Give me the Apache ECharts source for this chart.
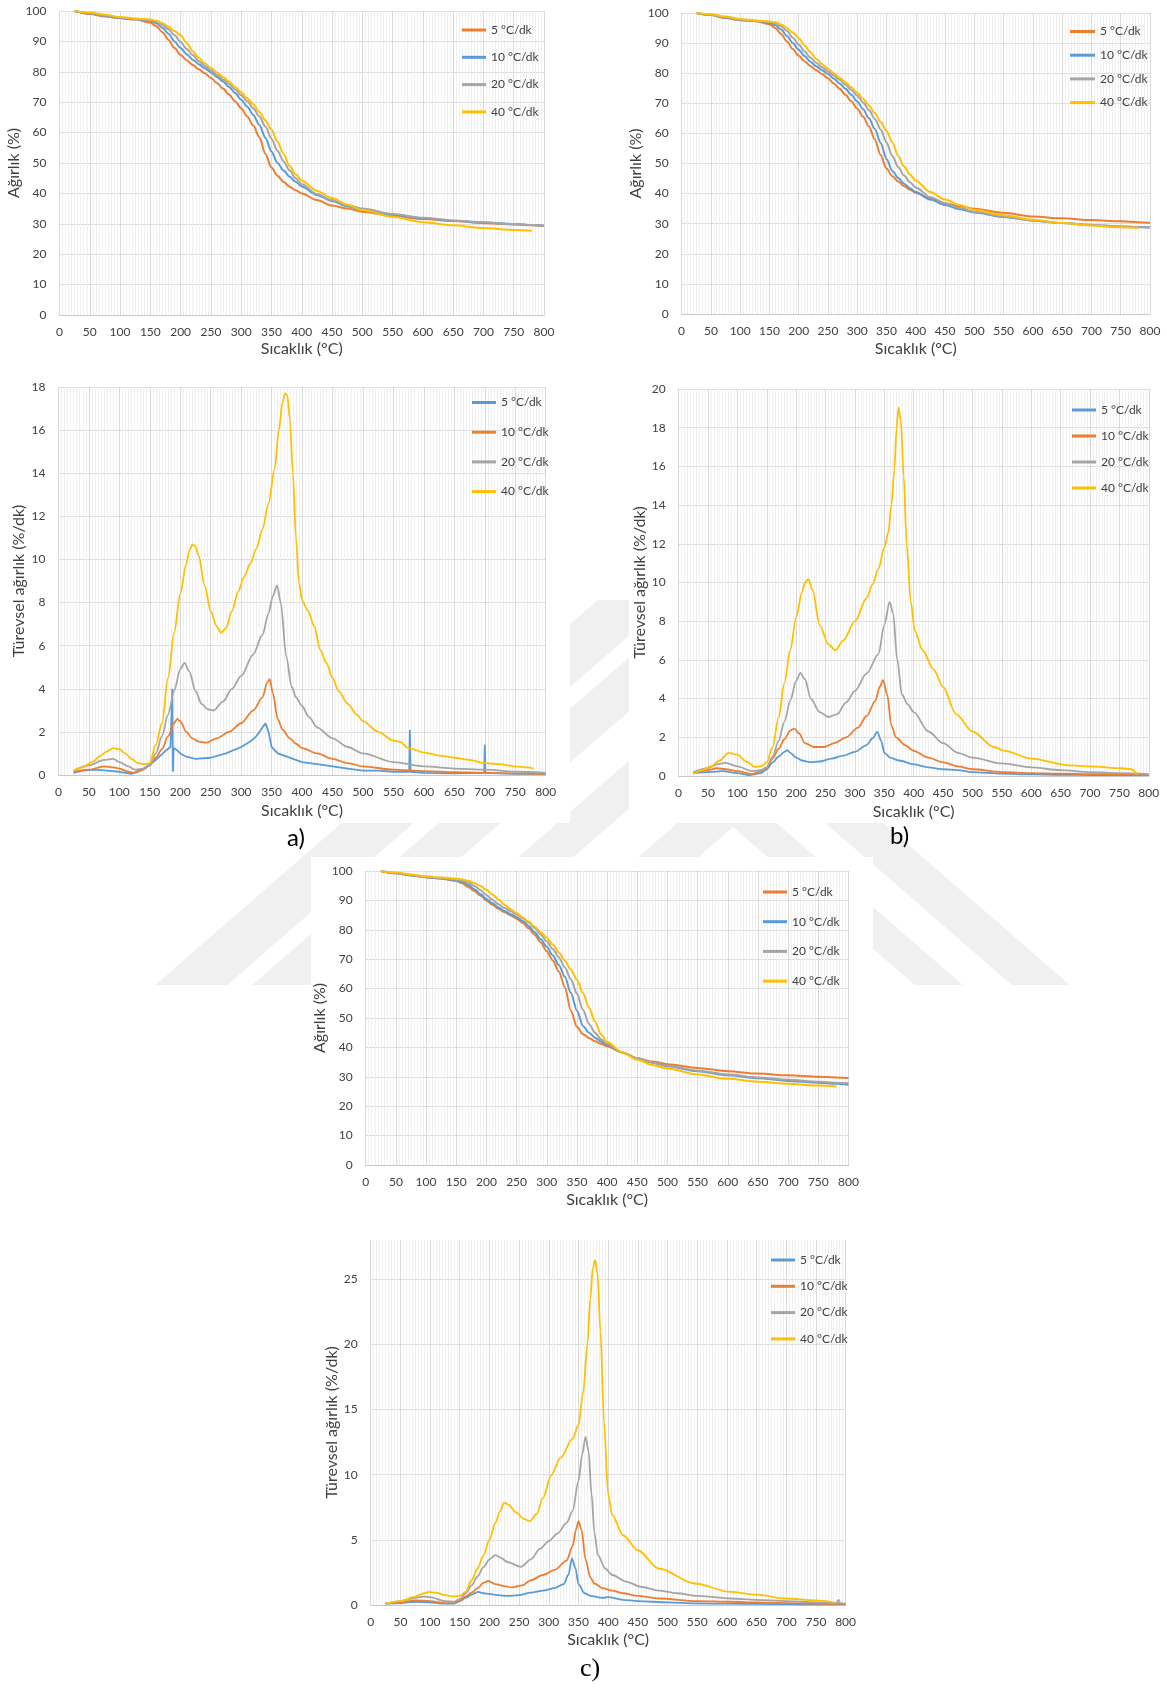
<!DOCTYPE html>
<html><head><meta charset="utf-8">
<script src="https://cdn.jsdelivr.net/npm/echarts@6/dist/echarts.min.js"></script>
<style>html,body{margin:0;padding:0;background:#fff}#c{width:1167px;height:1693px}</style>
</head><body><div id="c"></div>
<script>
// ---------------- DATA ----------------
const RATES = ['5 °C/dk', '10 °C/dk', '20 °C/dk', '40 °C/dk'];
const X_NAME = 'Sıcaklık (°C)';
const Y_NAME_TGA = 'Ağırlık (%)';
const Y_NAME_DTG = 'Türevsel ağırlık (%/dk)';
const PANEL_LABELS = ['a)', 'b)', 'c)'];

// TGA temperatures (°C) shared by all TGA panels
const tgaTemps = [25,50,75,100,125,150,160,170,180,190,200,210,220,230,240,250,260,270,280,290,300,310,320,330,340,350,360,370,380,390,400,425,450,475,500,550,600,650,700,750,780,800];

// a) TGA
const aTGA_5  = [100,99.0,98.2,97.6,97.2,96.2,95.0,93.0,90.5,87.8,85.5,83.8,82.2,80.8,79.5,78.0,76.3,74.5,72.5,70.3,68.0,65.3,62.3,58.5,53.0,48.5,45.8,43.8,42.2,41.0,40.0,37.8,36.0,35.0,34.0,32.6,31.6,30.9,30.3,29.8,29.5,29.3];
const aTGA_10 = [100,99.2,98.4,97.7,97.3,96.8,96.0,94.5,92.5,90.0,87.8,85.8,84.0,82.5,81.2,79.8,78.3,76.8,75.0,73.0,70.8,68.5,65.8,62.5,58.3,53.8,50.0,47.5,45.5,43.8,42.3,39.5,37.5,35.8,34.6,33.0,31.8,31.0,30.4,29.9,29.6,29.4];
const aTGA_20 = [100,99.3,98.5,97.8,97.4,97.0,96.6,95.5,94.0,92.0,89.8,87.5,85.5,83.5,82.0,80.5,79.0,77.5,76.0,74.2,72.3,70.3,68.0,65.3,62.0,58.0,54.0,50.5,47.5,45.0,43.0,39.8,37.8,36.2,35.0,33.2,32.0,31.1,30.5,29.9,29.6,29.4];
const aTGA_40 = [100,99.5,98.8,98.0,97.5,97.2,96.8,96.0,94.8,93.4,92.0,89.5,86.8,84.6,82.8,81.3,79.8,78.3,76.8,75.0,73.3,71.3,69.3,66.8,64.0,61.0,57.0,53.0,49.0,46.3,44.2,40.8,38.5,36.3,34.5,32.3,30.5,29.5,28.6,28.0,27.7,null];

// b) TGA
const bTGA_5  = [100,99.3,98.3,97.6,97.3,96.3,95.0,93.0,90.5,88.0,85.8,84.0,82.4,81.0,79.7,78.3,76.6,74.8,72.8,70.6,68.2,65.5,62.3,58.0,52.8,48.3,45.8,44.0,42.5,41.3,40.2,38.3,36.8,35.8,35.0,33.6,32.4,31.8,31.2,30.8,30.5,30.3];
const bTGA_10 = [100,99.3,98.4,97.7,97.4,96.8,96.0,94.5,92.4,90.0,87.8,85.7,83.8,82.3,81.0,79.7,78.2,76.6,74.8,72.8,70.6,68.0,65.0,61.5,56.8,51.5,47.5,45.2,43.3,41.8,40.5,38.0,36.2,34.8,33.7,32.2,31.0,30.2,29.6,29.1,28.9,28.7];
const bTGA_20 = [100,99.4,98.6,97.8,97.4,97.0,96.6,95.6,94.0,91.8,89.5,87.2,85.2,83.5,82.0,80.6,79.2,77.8,76.2,74.4,72.5,70.3,67.8,64.8,61.3,57.0,52.5,48.8,46.0,43.8,42.0,38.8,36.8,35.2,34.0,32.4,31.1,30.2,29.6,29.1,28.9,28.8];
const bTGA_40 = [100,99.6,98.8,98.0,97.5,97.2,96.9,96.2,95.0,93.5,91.6,89.3,87.0,84.8,83.0,81.5,80.0,78.5,77.0,75.3,73.5,71.5,69.3,66.8,63.8,60.8,57.0,52.5,49.0,46.3,44.3,40.5,38.0,36.2,34.6,32.8,31.3,30.2,29.4,28.8,28.6,null];

// c) TGA
const cTGA_5  = [100,99.2,98.5,97.9,97.4,96.6,95.8,94.6,93.2,91.7,90.0,88.5,87.2,86.0,84.9,83.8,82.4,80.5,78.3,75.7,72.7,69.6,65.8,60.5,52.5,47.0,44.5,43.2,42.1,41.2,40.4,38.3,36.3,35.2,34.3,33.0,31.9,31.1,30.5,30.0,29.8,29.6];
const cTGA_10 = [100,99.2,98.5,97.9,97.5,96.9,96.3,95.2,93.8,92.2,90.5,89.0,87.6,86.4,85.3,84.3,83.0,81.3,79.2,76.8,74.2,71.3,68.0,64.0,58.5,52.5,47.3,45.0,43.3,42.0,40.8,38.3,36.2,34.8,33.6,31.9,30.5,29.5,28.6,28.0,27.6,27.3];
const cTGA_20 = [100,99.3,98.6,98.0,97.6,97.1,96.7,96.0,94.9,93.5,91.8,90.2,88.7,87.4,86.3,85.2,84.0,82.5,80.6,78.4,76.0,73.5,70.6,67.2,63.2,58.3,52.8,48.0,45.0,42.8,41.2,38.3,36.3,34.9,33.8,32.1,30.8,29.8,29.0,28.3,28.0,27.8];
const cTGA_40 = [100,99.5,98.8,98.2,97.8,97.4,97.1,96.7,95.9,94.9,93.6,92.0,90.3,88.5,87.0,85.7,84.3,82.8,81.0,79.2,77.3,75.0,72.3,69.5,66.5,63.0,58.5,53.5,48.8,44.5,41.8,38.3,35.8,34.0,32.8,30.8,29.3,28.3,27.6,27.0,26.7,null];

// a) DTG
const aDTG_T5  = [25,40,60,80,100,120,140,160,175,184,186,187,188,189,195,200,210,225,250,275,300,315,325,335,340,345,350,360,375,400,425,450,475,500,525,550,576,577,578,600,650,699,700,701,750,800];
const aDTG_5   = [0.1,0.2,0.25,0.2,0.15,0.05,0.3,0.7,1.1,1.3,1.3,4.0,0.15,1.25,1.15,1.0,0.85,0.75,0.8,1.0,1.3,1.55,1.8,2.2,2.4,2.0,1.3,1.0,0.85,0.6,0.5,0.4,0.3,0.2,0.2,0.15,0.15,2.1,0.15,0.1,0.08,0.1,1.4,0.1,0.05,0.05];
const aDTG_T10 = [25,50,75,90,100,115,125,140,150,160,170,180,190,195,200,210,220,230,243,260,280,300,320,335,343,347,352,360,368,380,390,400,425,450,475,500,550,600,650,700,750,800];
const aDTG_10  = [0.15,0.25,0.4,0.35,0.3,0.15,0.1,0.25,0.45,0.8,1.2,1.8,2.4,2.6,2.5,2.0,1.7,1.55,1.5,1.7,2.0,2.4,3.0,3.6,4.3,4.45,3.8,2.6,2.1,1.7,1.45,1.25,1.0,0.75,0.55,0.4,0.25,0.18,0.13,0.1,0.08,0.05];
const aDTG_T20 = [25,50,75,90,100,115,125,140,150,160,170,180,190,200,207,215,225,235,245,255,270,285,300,320,335,345,352,359,365,374,383,390,400,411,425,450,475,500,550,600,650,700,750,800];
const aDTG_20  = [0.2,0.45,0.7,0.75,0.6,0.4,0.25,0.3,0.45,1.0,1.8,2.8,3.9,4.9,5.2,4.8,3.9,3.3,3.05,3.0,3.4,4.0,4.6,5.6,6.5,7.5,8.3,8.8,8.0,5.5,4.1,3.6,3.2,2.7,2.2,1.7,1.3,1.0,0.6,0.4,0.3,0.25,0.15,0.1];
const aDTG_T40 = [25,40,55,70,80,90,100,110,120,130,140,150,160,170,180,190,200,210,215,220,225,230,240,250,260,267,275,285,295,305,315,325,335,345,355,362,368,372,376,380,385,390,395,400,410,420,430,440,450,460,475,490,500,525,550,560,575,600,625,650,675,700,725,750,770,780];
const aDTG_40  = [0.2,0.35,0.6,0.9,1.1,1.25,1.2,1.0,0.75,0.55,0.5,0.55,1.4,2.4,4.5,6.6,8.4,9.8,10.4,10.7,10.6,10.2,8.8,7.6,6.9,6.6,6.8,7.6,8.5,9.2,9.8,10.5,11.4,12.6,14.2,16.0,17.3,17.7,17.6,16.5,14.0,11.0,8.9,8.1,7.6,6.9,5.8,5.2,4.5,3.9,3.3,2.8,2.5,2.0,1.6,1.55,1.25,1.05,0.9,0.8,0.7,0.55,0.5,0.4,0.35,0.3];

// b) DTG
const bDTG_T5  = [25,50,75,100,120,140,150,160,170,180,185,190,200,210,223,240,260,280,300,320,330,338,345,350,360,375,400,425,450,475,500,550,600,650,700,750,800];
const bDTG_5   = [0.15,0.2,0.25,0.15,0.05,0.15,0.35,0.7,1.0,1.25,1.33,1.2,0.95,0.8,0.72,0.75,0.9,1.05,1.25,1.6,1.95,2.28,1.8,1.2,0.95,0.8,0.6,0.45,0.35,0.3,0.2,0.12,0.08,0.06,0.05,0.05,0.05];
const bDTG_T10 = [25,50,65,80,100,125,140,150,160,170,180,190,197,205,215,230,248,265,285,305,320,335,342,348,355,362,370,385,400,425,450,475,500,550,600,650,700,750,800];
const bDTG_10  = [0.15,0.3,0.4,0.35,0.25,0.1,0.25,0.45,0.9,1.4,1.9,2.35,2.45,2.2,1.7,1.5,1.5,1.7,2.0,2.5,3.1,3.9,4.6,4.95,4.2,2.6,2.0,1.6,1.3,0.95,0.7,0.5,0.35,0.2,0.15,0.12,0.1,0.08,0.06];
const bDTG_T20 = [25,50,65,80,100,125,140,150,160,170,180,190,200,207,215,225,240,255,270,285,300,320,340,350,359,365,372,380,390,400,425,450,475,500,550,600,650,700,750,800];
const bDTG_20  = [0.2,0.4,0.6,0.68,0.5,0.25,0.3,0.45,1.0,1.8,2.8,3.9,4.9,5.33,5.0,4.0,3.3,3.05,3.2,3.8,4.4,5.3,6.3,7.8,9.0,8.4,6.0,4.2,3.7,3.3,2.3,1.7,1.2,0.95,0.65,0.45,0.3,0.2,0.15,0.1];
const bDTG_T40 = [25,40,55,70,85,100,115,130,140,150,160,170,180,190,200,210,215,221,228,240,255,267,280,300,320,330,340,350,357,362,367,371,374,378,383,388,395,402,415,434,450,472,500,536,555,600,664,700,754,770,780];
const bDTG_40  = [0.1,0.3,0.5,0.8,1.2,1.1,0.75,0.47,0.5,0.7,1.5,3.0,4.8,6.5,8.2,9.5,10.0,10.17,9.6,7.8,6.8,6.5,7.0,8.0,9.2,9.9,10.7,11.8,12.6,14.0,15.8,18.0,19.05,18.4,15.5,12.0,9.0,7.5,6.5,5.5,4.6,3.2,2.3,1.5,1.3,0.9,0.55,0.5,0.4,0.35,0.1];

// c) DTG
const cDTG_T5  = [25,50,75,100,125,140,150,160,170,181,190,200,215,230,250,270,290,310,325,333,339,345,350,360,370,390,400,425,450,500,550,600,650,700,750,800];
const cDTG_5   = [0.1,0.15,0.25,0.2,0.1,0.1,0.3,0.55,0.8,1.0,0.9,0.85,0.75,0.7,0.75,0.95,1.1,1.3,1.6,2.3,3.57,2.8,1.6,0.9,0.7,0.55,0.6,0.4,0.3,0.2,0.12,0.1,0.08,0.06,0.05,0.05];
const cDTG_T10 = [25,50,75,100,125,140,150,160,170,180,190,198,210,225,238,255,270,290,310,330,340,346,350,355,362,370,377,390,407,425,450,485,550,606,650,700,750,800];
const cDTG_10  = [0.1,0.2,0.35,0.3,0.15,0.15,0.35,0.65,0.95,1.3,1.7,1.84,1.6,1.45,1.35,1.5,1.9,2.3,2.7,3.4,4.5,5.8,6.43,5.8,3.5,2.1,1.65,1.3,1.1,0.9,0.7,0.5,0.3,0.25,0.2,0.15,0.1,0.08];
const cDTG_T20 = [25,50,75,90,100,125,140,150,160,170,180,190,200,210,220,230,253,270,285,300,315,330,340,350,356,362,367,372,377,383,395,407,430,455,485,516,550,606,650,700,750,785,788,791,800];
const cDTG_20  = [0.1,0.3,0.55,0.65,0.6,0.3,0.25,0.45,0.9,1.5,2.2,2.9,3.5,3.83,3.6,3.3,2.93,3.5,4.3,4.9,5.5,6.3,7.2,9.5,11.5,12.9,11.8,8.5,5.5,3.8,2.8,2.3,1.8,1.4,1.1,0.9,0.7,0.5,0.4,0.3,0.2,0.15,0.4,0.15,0.1];
const cDTG_T40 = [25,50,75,90,98,110,125,140,150,160,170,180,190,200,210,218,225,232,245,258,268,280,290,304,320,340,350,358,365,370,374,378,382,387,393,400,407,425,450,485,546,606,650,697,750,780];
const cDTG_40  = [0.1,0.3,0.65,0.9,1.0,0.95,0.75,0.65,0.7,1.0,1.9,2.8,3.8,5.0,6.3,7.2,7.86,7.7,7.1,6.6,6.43,7.0,8.2,9.95,11.3,12.75,13.8,16.3,20.0,23.5,25.8,26.45,25.5,21.0,14.0,8.5,6.9,5.35,4.2,2.8,1.65,1.0,0.8,0.5,0.35,0.2];

// ---------------- STYLE / LAYOUT ----------------
const C = { blue:'#5B9BD5', orange:'#ED7D31', gray:'#A5A5A5', yellow:'#FFC000' };
const TXT = '#404040';
const FONT = 'Lato';

const PANELS = [
  { grid:{left:59.5, top:11, width:484.5, height:304}, yMax:100, yInt:10, yName:Y_NAME_TGA, yGap:31, xGap:26,
    lg:{left:457, top:18, gap:13.3, w:24}, lw:2, smooth:0.3,
    s:[[C.orange,tgaTemps,aTGA_5],[C.blue,tgaTemps,aTGA_10],[C.gray,tgaTemps,aTGA_20],[C.yellow,tgaTemps,aTGA_40]] },
  { grid:{left:681.6, top:13, width:468.4, height:301}, yMax:100, yInt:10, yName:Y_NAME_TGA, yGap:31, xGap:27,
    lg:{left:1065, top:19.5, gap:9.7, w:25}, lw:2, smooth:0.3,
    s:[[C.orange,tgaTemps,bTGA_5],[C.blue,tgaTemps,bTGA_10],[C.gray,tgaTemps,bTGA_20],[C.yellow,tgaTemps,bTGA_40]] },
  { grid:{left:58.4, top:387, width:487.3, height:388}, yMax:18, yInt:2, yName:Y_NAME_DTG, yGap:32, xGap:28,
    lg:{left:467, top:390.5, gap:15.7, w:24}, lw:1.8, smooth:0.3,
    s:[[C.blue,aDTG_T5,aDTG_5,false],[C.orange,aDTG_T10,aDTG_10],[C.gray,aDTG_T20,aDTG_20],[C.yellow,aDTG_T40,aDTG_40]] },
  { grid:{left:678.6, top:389, width:470.2, height:387}, yMax:20, yInt:2, yName:Y_NAME_DTG, yGap:29, xGap:28,
    lg:{left:1067, top:398, gap:12, w:24}, lw:1.8, smooth:0.3,
    s:[[C.blue,bDTG_T5,bDTG_5],[C.orange,bDTG_T10,bDTG_10],[C.gray,bDTG_T20,bDTG_20],[C.yellow,bDTG_T40,bDTG_40]] },
  { grid:{left:365.7, top:871, width:482.8, height:294}, yMax:100, yInt:10, yName:Y_NAME_TGA, yGap:33, xGap:27,
    lg:{left:758, top:880, gap:15.7, w:24}, lw:2, smooth:0.3,
    s:[[C.orange,tgaTemps,cTGA_5],[C.blue,tgaTemps,cTGA_10],[C.gray,tgaTemps,cTGA_20],[C.yellow,tgaTemps,cTGA_40]] },
  { grid:{left:370.7, top:1240, width:474.9, height:365}, yMax:28, yInt:5, yName:Y_NAME_DTG, yGap:30, xGap:27,
    lg:{left:766, top:1248, gap:12.3, w:24}, lw:1.8, smooth:0.3,
    s:[[C.blue,cDTG_T5,cDTG_5],[C.orange,cDTG_T10,cDTG_10],[C.gray,cDTG_T20,cDTG_20],[C.yellow,cDTG_T40,cDTG_40]] }
];

const grids = [], xAxes = [], yAxes = [], series = [], legends = [];
PANELS.forEach((p, i) => {
  grids.push(Object.assign({ show:false }, p.grid));
  const maxOnTick = p.yMax % p.yInt === 0;
  xAxes.push({
    gridIndex:i, type:'value', min:0, max:800, interval:50, z:3,
    name:X_NAME, nameLocation:'middle', nameGap:p.xGap,
    nameTextStyle:{ fontSize:16, color:TXT, fontFamily:FONT },
    axisLine:{ show:true, lineStyle:{ color:'#c8c8c8', width:1 } },
    axisTick:{ show:false },
    axisLabel:{ fontSize:12, color:TXT, margin:11, fontFamily:FONT },
    splitLine:{ show:true, lineStyle:{ color:'#d9d9d9', width:1 } },
    minorTick:{ show:false, splitNumber:10 },
    minorSplitLine:{ show:true, lineStyle:{ color:'#f0f0f0', width:1 } }
  });
  yAxes.push({
    gridIndex:i, type:'value', min:0, max:p.yMax, interval:p.yInt, z:3,
    name:p.yName, nameLocation:'middle', nameGap:p.yGap,
    nameTextStyle:{ fontSize:16, color:TXT, fontFamily:FONT },
    axisLine:{ show:false }, axisTick:{ show:false },
    axisLabel:{ fontSize:12, color:TXT, margin:13, fontFamily:FONT, showMaxLabel:maxOnTick,
      formatter: v => (v % p.yInt === 0 ? String(v) : '') },
    splitLine:{ show:true, showMaxLine:maxOnTick, lineStyle:{ color:'#d9d9d9', width:1 } }
  });
  const names = [];
  p.s.forEach((s, j) => {
    const name = RATES[j] + ' '.repeat(i);
    names.push(name);
    series.push({
      type:'line', name, xAxisIndex:i, yAxisIndex:i, z:6,
      data: s[1].map((t, k) => [t, s[2][k]]),
      showSymbol:false, symbol:'none', connectNulls:false,
      smooth: s[3] === false ? false : p.smooth, smoothMonotone:'x',
      lineStyle:{ width:p.lw, color:s[0] }, itemStyle:{ color:s[0] },
      emphasis:{ disabled:true }, animation:false
    });
  });
  legends.push({
    orient:'vertical', left:p.lg.left, top:p.lg.top, itemGap:p.lg.gap,
    itemWidth:p.lg.w, itemHeight:3, icon:'rect', selectedMode:false, z:8,
    textStyle:{ fontSize:12, color:TXT, fontFamily:FONT, lineHeight:14 },
    data:names
  });
});

// background watermark (faint diagonal bands) and white chart boxes
const K = 1.15, WM = '#f0f0f0';
const graphics = [];
function slash(xl, w, yT, yB) {
  return [[xl + K*(840-yT), yT], [xl + w + K*(840-yT), yT], [xl + w + K*(840-yB), yB], [xl + K*(840-yB), yB]];
}
function back(xr, w, yT, yB) {
  return [[xr - K*(840-yT), yT], [xr + w - K*(840-yT), yT], [xr + w + K*(yB-840), yB], [xr + K*(yB-840), yB]];
}
[[322,72],[419,62],[538,55],[658,60]].forEach(b => graphics.push({ type:'polygon', z:1, silent:true, shape:{ points:slash(b[0], b[1], 600, 985) }, style:{ fill:WM } }));
[[748,48],[845,58]].forEach(b => graphics.push({ type:'polygon', z:1, silent:true, shape:{ points:back(b[0], b[1], 790, 985) }, style:{ fill:WM } }));
[[0,360,570,463],[629,0,538,823],[311,857,562,358],[311,1225,562,450]].forEach(r =>
  graphics.push({ type:'rect', z:2, silent:true, shape:{ x:r[0], y:r[1], width:r[2], height:r[3] }, style:{ fill:'#ffffff' } }));
graphics.push({ type:'text', z:10, left:287, top:826, style:{ text:PANEL_LABELS[0], fontSize:24, fill:'#000', fontFamily:FONT } });
graphics.push({ type:'text', z:10, left:890, top:824, style:{ text:PANEL_LABELS[1], fontSize:24, fill:'#000', fontFamily:FONT } });
graphics.push({ type:'text', z:10, left:580, top:1656, style:{ text:PANEL_LABELS[2], fontSize:26, fill:'#000', fontFamily:'Liberation Serif' } });

const chart = echarts.init(document.getElementById('c'), null, { renderer:'canvas' });
chart.setOption({
  backgroundColor:'#ffffff', animation:false,
  grid:grids, xAxis:xAxes, yAxis:yAxes, series, legend:legends, graphic:{ elements:graphics }
});
</script></body></html>
